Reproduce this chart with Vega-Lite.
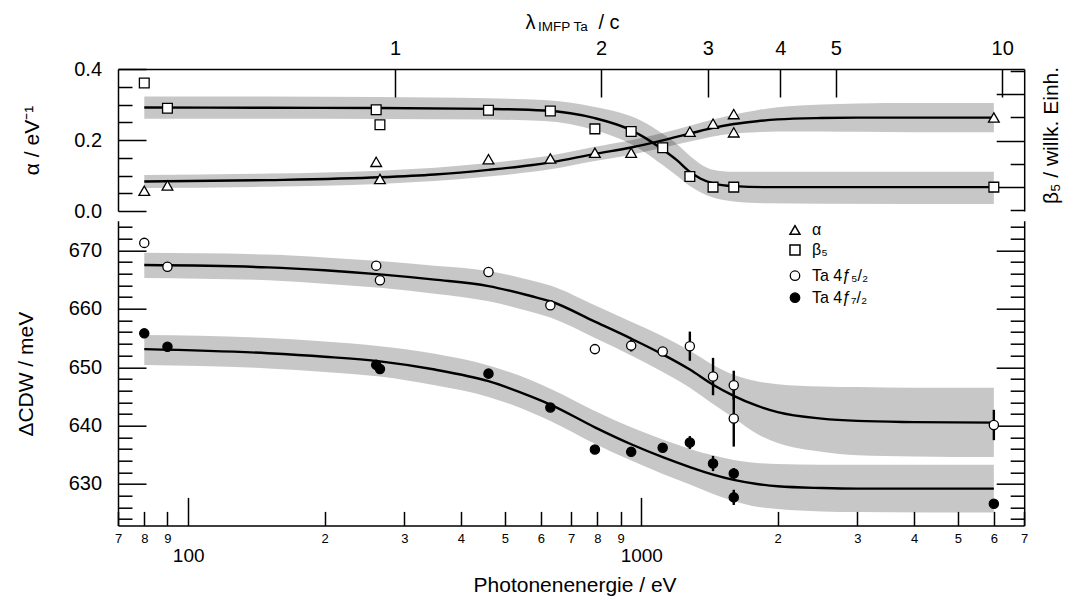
{
  "$schema": "https://vega.github.io/schema/vega-lite/v6.json",
  "background": "white",
  "padding": {"left": 15, "top": 12, "right": 5, "bottom": 0},
  "bounds": "flush",
  "spacing": 9.7,
  "config": {
    "font": "Liberation Sans",
    "view": {"stroke": null},
    "axis": {
      "grid": false,
      "domainColor": "black",
      "domainWidth": 1.5,
      "tickColor": "black",
      "tickWidth": 1.5,
      "labelColor": "black",
      "titleColor": "black",
      "labelFont": "Liberation Sans",
      "titleFont": "Liberation Sans",
      "titleFontWeight": "normal",
      "labelFontSize": 20,
      "titleFontSize": 21,
      "labelOverlap": false,
      "labelFlush": false,
      "labelBound": false
    },
    "legend": {"labelFont": "Liberation Sans", "labelColor": "black", "labelFontSize": 16}
  },
  "datasets": {
    "alpha_pts": [
      {"E": 80, "a": 0.057}, {"E": 90, "a": 0.072}, {"E": 260, "a": 0.1385}, {"E": 265, "a": 0.09},
      {"E": 460, "a": 0.146}, {"E": 630, "a": 0.148}, {"E": 790, "a": 0.164}, {"E": 950, "a": 0.164},
      {"E": 1280, "a": 0.2235}, {"E": 1440, "a": 0.246}, {"E": 1600, "a": 0.273}, {"E": 1600, "a": 0.2215},
      {"E": 6000, "a": 0.2635}
    ],
    "beta_pts": [
      {"E": 80, "b": 5.49}, {"E": 90, "b": 4.4}, {"E": 260, "b": 4.33}, {"E": 265, "b": 3.69},
      {"E": 460, "b": 4.31}, {"E": 630, "b": 4.28}, {"E": 790, "b": 3.51}, {"E": 950, "b": 3.4},
      {"E": 1115, "b": 2.7}, {"E": 1280, "b": 1.46}, {"E": 1440, "b": 1.0}, {"E": 1600, "b": 1.0},
      {"E": 6000, "b": 1.0}
    ],
    "alpha_fit": [
      {"E": 80, "fit": 0.083, "lo": 0.0645, "hi": 0.1015},
      {"E": 150, "fit": 0.087, "lo": 0.0685, "hi": 0.1055},
      {"E": 265, "fit": 0.095, "lo": 0.0763, "hi": 0.1137},
      {"E": 350, "fit": 0.103, "lo": 0.0842, "hi": 0.1218},
      {"E": 460, "fit": 0.116, "lo": 0.097, "hi": 0.135},
      {"E": 570, "fit": 0.129, "lo": 0.1097, "hi": 0.1483},
      {"E": 630, "fit": 0.137, "lo": 0.1175, "hi": 0.1565},
      {"E": 790, "fit": 0.161, "lo": 0.141, "hi": 0.181},
      {"E": 950, "fit": 0.179, "lo": 0.1585, "hi": 0.1995},
      {"E": 1115, "fit": 0.199, "lo": 0.178, "hi": 0.22},
      {"E": 1280, "fit": 0.218, "lo": 0.1955, "hi": 0.2405},
      {"E": 1440, "fit": 0.234, "lo": 0.21, "hi": 0.258},
      {"E": 1600, "fit": 0.245, "lo": 0.218, "hi": 0.272},
      {"E": 1800, "fit": 0.253, "lo": 0.222, "hi": 0.284},
      {"E": 2000, "fit": 0.258, "lo": 0.224, "hi": 0.292},
      {"E": 2500, "fit": 0.262, "lo": 0.224, "hi": 0.3},
      {"E": 3000, "fit": 0.263, "lo": 0.223, "hi": 0.303},
      {"E": 4000, "fit": 0.263, "lo": 0.222, "hi": 0.304},
      {"E": 6000, "fit": 0.263, "lo": 0.2215, "hi": 0.3045}
    ],
    "beta_fit": [
      {"E": 80, "fit": 4.43, "lo": 3.95, "hi": 4.91},
      {"E": 150, "fit": 4.42, "lo": 3.95, "hi": 4.9},
      {"E": 265, "fit": 4.41, "lo": 3.94, "hi": 4.88},
      {"E": 460, "fit": 4.37, "lo": 3.91, "hi": 4.83},
      {"E": 610, "fit": 4.3, "lo": 3.85, "hi": 4.75},
      {"E": 790, "fit": 3.97, "lo": 3.45, "hi": 4.45},
      {"E": 950, "fit": 3.45, "lo": 2.85, "hi": 4.05},
      {"E": 1000, "fit": 3.22, "lo": 2.6, "hi": 3.86},
      {"E": 1115, "fit": 2.62, "lo": 1.95, "hi": 3.3},
      {"E": 1200, "fit": 2.15, "lo": 1.48, "hi": 2.85},
      {"E": 1280, "fit": 1.66, "lo": 1.05, "hi": 2.35},
      {"E": 1350, "fit": 1.37, "lo": 0.78, "hi": 2.0},
      {"E": 1440, "fit": 1.16, "lo": 0.55, "hi": 1.75},
      {"E": 1600, "fit": 1.04, "lo": 0.38, "hi": 1.66},
      {"E": 1900, "fit": 1.0, "lo": 0.3, "hi": 1.66},
      {"E": 2500, "fit": 1.0, "lo": 0.28, "hi": 1.66},
      {"E": 6000, "fit": 1.0, "lo": 0.27, "hi": 1.66}
    ],
    "cdw": [
      {"E": 80, "line": "Ta 4f5/2", "v": 671.3},
      {"E": 90, "line": "Ta 4f5/2", "v": 667.2},
      {"E": 260, "line": "Ta 4f5/2", "v": 667.4},
      {"E": 265, "line": "Ta 4f5/2", "v": 664.9},
      {"E": 460, "line": "Ta 4f5/2", "v": 666.3},
      {"E": 630, "line": "Ta 4f5/2", "v": 660.6},
      {"E": 790, "line": "Ta 4f5/2", "v": 653.1, "lo": 652.3, "hi": 653.9},
      {"E": 950, "line": "Ta 4f5/2", "v": 653.7, "lo": 652.7, "hi": 654.7},
      {"E": 1115, "line": "Ta 4f5/2", "v": 652.7, "lo": 651.9, "hi": 653.5},
      {"E": 1280, "line": "Ta 4f5/2", "v": 653.6, "lo": 651.1, "hi": 656.1},
      {"E": 1440, "line": "Ta 4f5/2", "v": 648.4, "lo": 645.2, "hi": 651.6},
      {"E": 1600, "line": "Ta 4f5/2", "v": 646.9, "lo": 644.4, "hi": 649.4},
      {"E": 1600, "line": "Ta 4f5/2", "v": 641.2, "lo": 636.4, "hi": 646.0},
      {"E": 6000, "line": "Ta 4f5/2", "v": 640.1, "lo": 637.5, "hi": 642.7},
      {"E": 80, "line": "Ta 4f7/2", "v": 655.8},
      {"E": 90, "line": "Ta 4f7/2", "v": 653.5},
      {"E": 260, "line": "Ta 4f7/2", "v": 650.4},
      {"E": 265, "line": "Ta 4f7/2", "v": 649.7},
      {"E": 460, "line": "Ta 4f7/2", "v": 648.9},
      {"E": 630, "line": "Ta 4f7/2", "v": 643.1},
      {"E": 790, "line": "Ta 4f7/2", "v": 635.9},
      {"E": 950, "line": "Ta 4f7/2", "v": 635.5},
      {"E": 1115, "line": "Ta 4f7/2", "v": 636.2},
      {"E": 1280, "line": "Ta 4f7/2", "v": 637.1, "lo": 636.0, "hi": 638.2},
      {"E": 1440, "line": "Ta 4f7/2", "v": 633.5, "lo": 632.2, "hi": 634.8},
      {"E": 1600, "line": "Ta 4f7/2", "v": 631.8, "lo": 630.9, "hi": 632.7},
      {"E": 1600, "line": "Ta 4f7/2", "v": 627.7, "lo": 626.4, "hi": 629.0},
      {"E": 6000, "line": "Ta 4f7/2", "v": 626.6}
    ],
    "cdw_fit": [
      {"E": 80, "line": "Ta 4f5/2", "fit": 667.5, "lo": 665.3, "hi": 669.6},
      {"E": 150, "line": "Ta 4f5/2", "fit": 667.1, "lo": 664.9, "hi": 669.3},
      {"E": 200, "line": "Ta 4f5/2", "fit": 666.6, "lo": 664.3, "hi": 668.8},
      {"E": 265, "line": "Ta 4f5/2", "fit": 665.9, "lo": 663.6, "hi": 668.2},
      {"E": 350, "line": "Ta 4f5/2", "fit": 665.0, "lo": 662.6, "hi": 667.4},
      {"E": 460, "line": "Ta 4f5/2", "fit": 663.9, "lo": 661.3, "hi": 666.5},
      {"E": 570, "line": "Ta 4f5/2", "fit": 662.2, "lo": 659.5, "hi": 664.9},
      {"E": 630, "line": "Ta 4f5/2", "fit": 661.3, "lo": 658.5, "hi": 664.0},
      {"E": 790, "line": "Ta 4f5/2", "fit": 657.8, "lo": 655.0, "hi": 660.6},
      {"E": 950, "line": "Ta 4f5/2", "fit": 654.9, "lo": 652.0, "hi": 657.8},
      {"E": 1115, "line": "Ta 4f5/2", "fit": 652.2, "lo": 649.2, "hi": 655.3},
      {"E": 1280, "line": "Ta 4f5/2", "fit": 649.6, "lo": 646.5, "hi": 652.8},
      {"E": 1440, "line": "Ta 4f5/2", "fit": 647.0, "lo": 643.7, "hi": 650.4},
      {"E": 1600, "line": "Ta 4f5/2", "fit": 645.1, "lo": 641.3, "hi": 648.7},
      {"E": 1800, "line": "Ta 4f5/2", "fit": 643.4, "lo": 638.6, "hi": 647.6},
      {"E": 2000, "line": "Ta 4f5/2", "fit": 642.3, "lo": 637.0, "hi": 647.1},
      {"E": 2500, "line": "Ta 4f5/2", "fit": 641.2, "lo": 635.5, "hi": 646.7},
      {"E": 3000, "line": "Ta 4f5/2", "fit": 640.8, "lo": 634.9, "hi": 646.6},
      {"E": 4000, "line": "Ta 4f5/2", "fit": 640.6, "lo": 634.7, "hi": 646.5},
      {"E": 6000, "line": "Ta 4f5/2", "fit": 640.5, "lo": 634.6, "hi": 646.5},
      {"E": 80, "line": "Ta 4f7/2", "fit": 653.1, "lo": 650.4, "hi": 655.5},
      {"E": 150, "line": "Ta 4f7/2", "fit": 652.4, "lo": 649.8, "hi": 655.0},
      {"E": 200, "line": "Ta 4f7/2", "fit": 651.8, "lo": 649.2, "hi": 654.4},
      {"E": 265, "line": "Ta 4f7/2", "fit": 651.0, "lo": 648.4, "hi": 653.6},
      {"E": 350, "line": "Ta 4f7/2", "fit": 649.6, "lo": 646.9, "hi": 652.3},
      {"E": 460, "line": "Ta 4f7/2", "fit": 647.6, "lo": 644.9, "hi": 650.3},
      {"E": 570, "line": "Ta 4f7/2", "fit": 645.0, "lo": 642.3, "hi": 647.8},
      {"E": 630, "line": "Ta 4f7/2", "fit": 643.6, "lo": 640.8, "hi": 646.3},
      {"E": 790, "line": "Ta 4f7/2", "fit": 639.7, "lo": 636.9, "hi": 642.5},
      {"E": 950, "line": "Ta 4f7/2", "fit": 636.8, "lo": 634.0, "hi": 639.7},
      {"E": 1115, "line": "Ta 4f7/2", "fit": 634.6, "lo": 631.7, "hi": 637.6},
      {"E": 1280, "line": "Ta 4f7/2", "fit": 632.9, "lo": 629.9, "hi": 636.0},
      {"E": 1440, "line": "Ta 4f7/2", "fit": 631.6, "lo": 628.3, "hi": 634.9},
      {"E": 1600, "line": "Ta 4f7/2", "fit": 630.7, "lo": 627.1, "hi": 634.1},
      {"E": 1800, "line": "Ta 4f7/2", "fit": 630.0, "lo": 626.1, "hi": 633.6},
      {"E": 2000, "line": "Ta 4f7/2", "fit": 629.6, "lo": 625.7, "hi": 633.4},
      {"E": 2500, "line": "Ta 4f7/2", "fit": 629.3, "lo": 625.3, "hi": 633.3},
      {"E": 3000, "line": "Ta 4f7/2", "fit": 629.2, "lo": 625.2, "hi": 633.3},
      {"E": 6000, "line": "Ta 4f7/2", "fit": 629.2, "lo": 625.1, "hi": 633.3}
    ]
  },
  "resolve": {
    "scale": {"shape": "independent", "fill": "independent"},
    "legend": {"shape": "independent", "fill": "independent"}
  },
  "vconcat": [
    {
      "width": 906.2,
      "height": 142,
      "resolve": {
        "scale": {"x": "independent", "y": "independent"},
        "axis": {"x": "independent", "y": "independent"}
      },
      "layer": [
        {
          "data": {"name": "alpha_fit"},
          "mark": {"type": "area", "color": "black", "opacity": 0.22, "interpolate": "monotone"},
          "encoding": {
            "x": {
              "field": "E", "type": "quantitative",
              "scale": {"type": "log", "domain": [70, 7000], "nice": false},
              "axis": {
                "orient": "top",
                "values": [286, 815, 1403, 2028, 2687, 6258],
                "labelExpr": "datum.value < 500 ? '1' : datum.value < 1000 ? '2' : datum.value < 1700 ? '3' : datum.value < 2400 ? '4' : datum.value < 4000 ? '5' : '10'",
                "tickSize": -28,
                "labelPadding": 38.7,
                "title": "λ",
                "titleX": 407, "titleY": -40.6,
                "titleAlign": "left", "titleBaseline": "alphabetic", "titleAngle": 0,
                "titleFontSize": 20
              }
            },
            "y": {
              "field": "lo", "type": "quantitative",
              "scale": {"domain": [0, 0.4], "nice": false, "zero": false},
              "axis": {
                "orient": "left",
                "values": [0, 0.2, 0.4],
                "format": ".1f",
                "tickSize": -28,
                "labelPadding": 44.5,
                "title": "α / eV⁻¹",
                "titleX": -79.6, "titleY": 71,
                "titleAngle": 270, "titleAlign": "center", "titleBaseline": "alphabetic"
              }
            },
            "y2": {"field": "hi"}
          }
        },
        {
          "data": {"name": "beta_fit"},
          "mark": {"type": "area", "color": "black", "opacity": 0.22, "interpolate": "monotone"},
          "encoding": {
            "x": {
              "field": "E", "type": "quantitative",
              "scale": {"type": "log", "domain": [70, 7000], "nice": false},
              "axis": {
                "orient": "top", "domain": false, "ticks": false, "labels": false,
                "title": "IMFP Ta",
                "titleX": 419.5, "titleY": -38.1,
                "titleAlign": "left", "titleBaseline": "alphabetic", "titleAngle": 0,
                "titleFontSize": 13.5
              }
            },
            "y": {
              "field": "lo", "type": "quantitative",
              "scale": {"domain": [-0.03, 6.09], "nice": false, "zero": false},
              "axis": {
                "orient": "right",
                "values": [1, 3, 5],
                "tickSize": -28,
                "labels": false,
                "title": "β₅ / willk. Einh.",
                "titleX": 33.2, "titleY": 66,
                "titleAngle": 270, "titleAlign": "center", "titleBaseline": "alphabetic"
              }
            },
            "y2": {"field": "hi"}
          }
        },
        {
          "data": {"name": "alpha_fit"},
          "mark": {"type": "line", "color": "black", "strokeWidth": 2.4, "interpolate": "monotone"},
          "encoding": {
            "x": {
              "field": "E", "type": "quantitative",
              "scale": {"type": "log", "domain": [70, 7000], "nice": false},
              "axis": {
                "orient": "top", "domain": false, "ticks": false, "labels": false,
                "title": "/ c",
                "titleX": 480, "titleY": -40.6,
                "titleAlign": "left", "titleBaseline": "alphabetic", "titleAngle": 0,
                "titleFontSize": 20
              }
            },
            "y": {
              "field": "fit", "type": "quantitative",
              "scale": {"domain": [0, 0.4], "nice": false, "zero": false},
              "axis": {
                "orient": "left",
                "values": [0.05, 0.1, 0.15, 0.25, 0.3, 0.35],
                "tickSize": -14,
                "labels": false, "domain": false, "title": null
              }
            }
          }
        },
        {
          "data": {"name": "beta_fit"},
          "mark": {"type": "line", "color": "black", "strokeWidth": 2.4, "interpolate": "monotone"},
          "encoding": {
            "x": {
              "field": "E", "type": "quantitative",
              "scale": {"type": "log", "domain": [70, 7000], "nice": false},
              "axis": null
            },
            "y": {
              "field": "fit", "type": "quantitative",
              "scale": {"domain": [-0.03, 6.09], "nice": false, "zero": false},
              "axis": {
                "orient": "right",
                "values": [0, 2, 4, 6],
                "tickSize": -14,
                "labels": false, "domain": false, "title": null
              }
            }
          }
        },
        {
          "data": {"name": "alpha_pts"},
          "mark": {"type": "point", "filled": true, "fill": "white", "stroke": "black", "strokeWidth": 1.3, "size": 115, "opacity": 1},
          "encoding": {
            "x": {
              "field": "E", "type": "quantitative",
              "scale": {"type": "log", "domain": [70, 7000], "nice": false},
              "axis": null
            },
            "y": {
              "field": "a", "type": "quantitative",
              "scale": {"domain": [0, 0.4], "nice": false, "zero": false},
              "axis": null
            },
            "shape": {
              "datum": "α", "type": "nominal",
              "scale": {"domain": ["α", "β₅"], "range": ["triangle-up", "square"]},
              "legend": {
                "orient": "none", "legendX": 669, "legendY": 153,
                "title": null, "padding": 0,
                "symbolSize": 100, "labelFontSize": 16, "labelOffset": 9, "rowPadding": 4,
                "encode": {
                  "symbols": {
                    "update": {
                      "fill": {"value": "white"},
                      "stroke": {"value": "black"},
                      "strokeWidth": {"value": 1.3},
                      "opacity": {"value": 1}
                    }
                  }
                }
              }
            }
          }
        },
        {
          "data": {"name": "beta_pts"},
          "mark": {"type": "point", "filled": true, "fill": "white", "stroke": "black", "strokeWidth": 1.3, "size": 95, "opacity": 1},
          "encoding": {
            "x": {
              "field": "E", "type": "quantitative",
              "scale": {"type": "log", "domain": [70, 7000], "nice": false},
              "axis": null
            },
            "y": {
              "field": "b", "type": "quantitative",
              "scale": {"domain": [-0.03, 6.09], "nice": false, "zero": false},
              "axis": null
            },
            "shape": {"datum": "β₅", "type": "nominal"}
          }
        }
      ]
    },
    {
      "width": 906.2,
      "height": 304.7,
      "resolve": {
        "scale": {"x": "independent", "y": "independent"},
        "axis": {"x": "independent", "y": "independent"}
      },
      "layer": [
        {
          "data": {"name": "cdw_fit"},
          "mark": {"type": "area", "color": "black", "opacity": 0.22, "interpolate": "monotone"},
          "encoding": {
            "detail": {"field": "line"},
            "x": {
              "field": "E", "type": "quantitative",
              "scale": {"type": "log", "domain": [70, 7000], "nice": false},
              "axis": {
                "orient": "bottom",
                "values": [100, 1000],
                "format": "d",
                "tickSize": -28,
                "labelPadding": 49.3,
                "labelFontSize": 19,
                "title": "Photonenenergie / eV",
                "titleX": 456.6, "titleY": 66,
                "titleAlign": "center", "titleBaseline": "alphabetic", "titleAngle": 0
              }
            },
            "y": {
              "field": "lo", "type": "quantitative",
              "scale": {"domain": [622.9, 675.1], "nice": false, "zero": false},
              "axis": {
                "orient": "left",
                "values": [630, 640, 650, 660, 670],
                "tickSize": -28,
                "labelPadding": 44.5,
                "title": "ΔCDW / meV",
                "titleX": -85.6, "titleY": 153,
                "titleAngle": 270, "titleAlign": "center", "titleBaseline": "alphabetic"
              }
            },
            "y2": {"field": "hi"}
          }
        },
        {
          "data": {"name": "cdw_fit"},
          "mark": {"type": "line", "color": "black", "strokeWidth": 2.4, "interpolate": "monotone"},
          "encoding": {
            "detail": {"field": "line"},
            "x": {
              "field": "E", "type": "quantitative",
              "scale": {"type": "log", "domain": [70, 7000], "nice": false},
              "axis": {
                "orient": "bottom",
                "values": [70, 80, 90, 200, 300, 400, 500, 600, 700, 800, 900, 2000, 3000, 4000, 5000, 6000, 7000],
                "labelExpr": "substring(toString(datum.value), 0, 1)",
                "tickSize": -14,
                "labelPadding": 20.7,
                "labelFontSize": 13,
                "domain": false,
                "title": null
              }
            },
            "y": {
              "field": "fit", "type": "quantitative",
              "scale": {"domain": [622.9, 675.1], "nice": false, "zero": false},
              "axis": {
                "orient": "left",
                "values": [624, 626, 628, 632, 634, 636, 638, 642, 644, 646, 648, 652, 654, 656, 658, 662, 664, 666, 668, 672, 674],
                "tickSize": -14,
                "labels": false, "domain": false, "title": null
              }
            }
          }
        },
        {
          "data": {"name": "cdw"},
          "transform": [{"filter": "isValid(datum.lo)"}],
          "mark": {"type": "rule", "color": "black", "strokeWidth": 2.4},
          "encoding": {
            "x": {
              "field": "E", "type": "quantitative",
              "scale": {"type": "log", "domain": [70, 7000], "nice": false},
              "axis": null
            },
            "y": {
              "field": "lo", "type": "quantitative",
              "scale": {"domain": [622.9, 675.1], "nice": false, "zero": false},
              "axis": {
                "orient": "right",
                "values": [630, 640, 650, 660, 670],
                "tickSize": -28,
                "labels": false, "title": null
              }
            },
            "y2": {"field": "hi"}
          }
        },
        {
          "data": {"name": "cdw"},
          "mark": {"type": "point", "shape": "circle", "filled": true, "stroke": "black", "strokeWidth": 1.3, "size": 85, "opacity": 1},
          "encoding": {
            "x": {
              "field": "E", "type": "quantitative",
              "scale": {"type": "log", "domain": [70, 7000], "nice": false},
              "axis": null
            },
            "y": {
              "field": "v", "type": "quantitative",
              "scale": {"domain": [622.9, 675.1], "nice": false, "zero": false},
              "axis": {
                "orient": "right",
                "values": [624, 626, 628, 632, 634, 636, 638, 642, 644, 646, 648, 652, 654, 656, 658, 662, 664, 666, 668, 672, 674],
                "tickSize": -14,
                "labels": false, "domain": false, "title": null
              }
            },
            "fill": {
              "field": "line", "type": "nominal",
              "scale": {"domain": ["Ta 4f5/2", "Ta 4f7/2"], "range": ["white", "black"]},
              "legend": {
                "orient": "none", "legendX": 669, "legendY": 47,
                "title": null, "padding": 0,
                "symbolType": "circle", "symbolStrokeColor": "black", "symbolStrokeWidth": 1.3,
                "symbolSize": 90, "labelFontSize": 16, "labelOffset": 9, "rowPadding": 6,
                "labelExpr": "datum.label == 'Ta 4f5/2' ? 'Ta  4ƒ₅/₂' : 'Ta  4ƒ₇/₂'"
              }
            }
          }
        }
      ]
    }
  ]
}
